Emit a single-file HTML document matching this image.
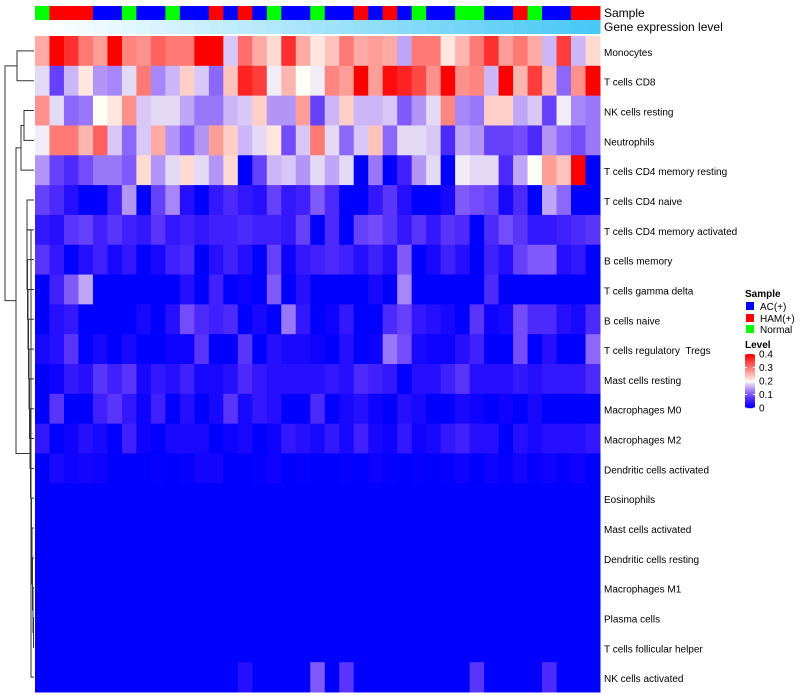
<!DOCTYPE html>
<html><head><meta charset="utf-8"><title>Immune cell heatmap</title>
<style>
html,body{margin:0;padding:0;background:#fff;}
svg{display:block;font-family:"Liberation Sans",Arial,sans-serif;}
#rowlabels text{white-space:pre;}
</style></head>
<body>
<svg id="chart" width="800" height="700" viewBox="0 0 800 700">
  <g id="dendro" stroke="#333" stroke-width="1" fill="none"></g>
  <g id="annot"></g>
  <g id="gene"></g>
  <g id="cells"></g>
  <g id="rowlabels" font-size="10" fill="#000"></g>
  <text x="604" y="17" font-size="12">Sample</text>
  <text x="604" y="31" font-size="12">Gene expression level</text>
  <g>
    <text x="745" y="297" font-size="10" font-weight="bold">Sample</text>
    <rect x="746" y="302" width="8" height="8" fill="#0000ff"/>
    <text x="760" y="310" font-size="10">AC(+)</text>
    <rect x="746" y="314" width="8" height="8" fill="#ff0000"/>
    <text x="760" y="322" font-size="10">HAM(+)</text>
    <rect x="746" y="325" width="8" height="8" fill="#00ff00"/>
    <text x="760" y="333" font-size="10">Normal</text>
    <text x="745" y="348" font-size="10" font-weight="bold">Level</text>
    <g id="colorbar"></g>
  </g>
</svg>
<script>
const rowNames = ["Monocytes","T cells CD8","NK cells resting","Neutrophils","T cells CD4 memory resting","T cells CD4 naive","T cells CD4 memory activated","B cells memory","T cells gamma delta","B cells naive","T cells regulatory  Tregs","Mast cells resting","Macrophages M0","Macrophages M2","Dendritic cells activated","Eosinophils","Mast cells activated","Dendritic cells resting","Macrophages M1","Plasma cells","T cells follicular helper","NK cells activated"];
const sampleGroups = ["N","H","H","H","A","A","N","A","A","N","A","A","H","A","H","A","N","A","A","N","A","A","H","A","H","A","N","A","A","N","N","A","A","H","N","A","A","H","H"];
const levelTicks = [0,0.1,0.2,0.3,0.4];
const r0 = [.26,.4,.36,.3,.27,.4,.29,.28,.32,.3,.3,.4,.4,.17,.31,.26,.22,.36,.26,.21,.24,.3,.26,.27,.26,.15,.3,.3,.21,.25,.3,.36,.27,.3,.26,.16,.35,.16,.22];
const r1 = [.18,.08,.16,.21,.14,.13,.18,.3,.13,.16,.23,.17,.11,.24,.37,.35,.19,.25,.2,.19,.29,.27,.4,.27,.39,.37,.34,.28,.4,.28,.29,.16,.4,.25,.35,.25,.11,.28,.4];
const r2 = [.28,.18,.11,.12,.2,.21,.28,.17,.18,.18,.15,.12,.12,.16,.17,.23,.14,.14,.27,.08,.16,.23,.16,.16,.17,.1,.14,.18,.29,.13,.12,.23,.23,.15,.17,.08,.19,.13,.12];
const r3 = [.19,.3,.3,.25,.32,.17,.11,.17,.26,.14,.1,.14,.27,.23,.16,.18,.21,.09,.17,.3,.18,.11,.17,.24,.11,.18,.18,.17,.06,.15,.14,.08,.08,.09,.06,.14,.11,.09,.12];
const r4 = [.14,.08,.06,.09,.12,.12,.1,.22,.14,.18,.22,.18,.14,.22,0,.08,.16,.17,.14,.18,.15,.18,0,.12,0,.05,.14,.18,0,.19,.18,.18,.06,.15,.2,.27,.24,.4,0];
const r5 = [.08,.06,.03,0,0,.05,.14,0,.08,.13,.03,0,.04,.06,.04,.03,.08,.04,.05,.1,.06,0,0,.04,.07,.03,0,0,.02,.1,.09,.08,.02,.06,0,.15,.11,0,0];
const r6 = [.04,.03,.07,.08,.05,.07,.05,.04,.07,.04,.05,.04,.05,.05,.06,.05,.05,.04,.08,0,.06,0,.08,.09,.07,.04,.07,.04,.07,.06,0,.06,.09,.07,.04,.04,.05,.06,.07];
const r7 = [.07,.04,0,.03,.05,.02,.04,0,.02,.05,.06,0,.03,.05,.03,0,.08,.01,.04,.05,.06,.05,.03,.05,.03,.1,0,.02,.05,.03,0,.05,.03,.08,.1,.1,.03,.04,0];
const r8 = [0,.05,.1,.15,0,0,0,0,0,0,.03,0,.05,0,.01,0,.1,0,.03,0,0,0,0,.02,0,.13,0,0,0,0,0,.06,0,0,0,0,0,0,0];
const r9 = [0,.03,.04,0,0,0,0,.02,0,.03,.09,.06,.05,.06,0,.02,0,.12,.04,0,.01,.04,0,0,.06,.08,.04,.03,.02,0,.07,.01,.02,.09,.06,.06,.03,.02,.06];
const r10 = [.02,.03,.07,0,.02,0,.02,0,0,.01,.01,.07,0,0,.07,0,.03,.02,.02,.01,0,.03,0,.01,.12,.09,.02,.01,.01,.03,.05,0,0,.09,0,.03,0,0,.11];
const r11 = [0,.01,.04,.03,.07,.05,.07,.02,.04,.03,.05,.02,.02,.03,.06,.04,.03,.03,.03,.03,.04,.03,.06,.05,.04,0,.03,.03,.05,.07,.03,.03,.03,.04,.03,.04,.04,.04,.06];
const r12 = [0,.07,0,0,.05,.07,.04,.01,.05,0,.03,0,.02,.07,.02,.04,.03,0,0,.06,0,.02,.03,.01,0,.03,.02,0,0,.02,.01,0,.01,0,.02,0,0,0,0];
const r13 = [.04,0,.01,.03,.02,0,.05,.01,0,.02,.02,.02,0,.01,.02,0,.01,.04,.03,.02,.04,.02,.05,.02,.01,.04,.01,.02,.04,.05,.03,.03,0,.03,.02,.03,.03,.03,.04];
const r14 = [0,.02,.01,.015,.01,0,0,0,.005,0,.005,.015,.015,0,0,.005,.01,0,.005,0,0,.005,0,.01,.005,0,.005,0,.005,.01,0,.01,.005,.015,.005,.01,.005,.01,0];
const r15 = [0,0,0,0,0,0,0,0,0,0,0,0,0,0,0,0,0,0,0,0,0,0,0,0,0,0,0,0,0,0,0,0,0,0,0,0,0,0,0];
const r16 = r15.slice(), r17 = r15.slice(), r18 = r15.slice(), r19 = r15.slice(), r20 = r15.slice();
const r21 = [0,0,0,0,0,0,0,0,0,0,0,0,0,0,.03,0,0,0,0,.1,0,.07,0,0,0,0,0,0,0,0,.07,0,0,0,0,.06,0,0,0];
const matrix = [r0,r1,r2,r3,r4,r5,r6,r7,r8,r9,r10,r11,r12,r13,r14,r15,r16,r17,r18,r19,r20,r21];

const NS = "http://www.w3.org/2000/svg";
const X0 = 35, X1 = 600, Y0 = 36, Y1 = 692;
const nCol = sampleGroups.length, nRow = rowNames.length;
const cw = (X1 - X0) / nCol, rh = (Y1 - Y0) / nRow;
const xPos = i => X0 + i * cw;
const yPos = j => Y0 + j * rh;
const groupColor = {A:"#0000ff", H:"#ff0000", N:"#00ff00"};

function colorOf(v){
  let t = Math.max(0, Math.min(1, v / 0.4));
  let r,g,b;
  if (t <= 0.5){ const s = t/0.5; r = 255*s; g = 255*Math.pow(s,1.5); b = 255 - 10*s; }
  else { const s = (1-t)/0.5; r = 255; g = 255*s*0.95; b = 255*s*0.92; }
  return `rgb(${Math.round(r)},${Math.round(g)},${Math.round(b)})`;
}
function mk(tag, attrs, parent){
  const e = document.createElementNS(NS, tag);
  for (const k in attrs) e.setAttribute(k, attrs[k]);
  parent.appendChild(e); return e;
}

const cells = document.getElementById("cells");
matrix.forEach((row, j) => {
  row.forEach((v, i) => {
    const r = mk("rect", {x: xPos(i), y: yPos(j), width: cw + 0.5, height: rh + 0.5, fill: colorOf(v)}, cells);
    
    
  });
});

const annot = document.getElementById("annot");
sampleGroups.forEach((g, i) => {
  const r = mk("rect", {x: xPos(i), y: 6, width: cw + 0.5, height: 14, fill: groupColor[g]}, annot);
  
  
});
const gene = document.getElementById("gene");
sampleGroups.forEach((g, i) => {
  const t = i / (nCol - 1);
  const c = `rgb(${Math.round(255 - (255-72)*t)},${Math.round(255 - (255-200)*t)},${Math.round(255 - (255-245)*t)})`;
  const r = mk("rect", {x: xPos(i), y: 20, width: cw + 0.5, height: 14, fill: c}, gene);
  
  
});

const rl = document.getElementById("rowlabels");
rowNames.forEach((n, j) => {
  const t = mk("text", {x: 604, y: yPos(j) + rh/2 + 5}, rl);
  t.textContent = n;
  
  
});

const cb = document.getElementById("colorbar");
const cbTop = 354, cbBot = 408;
for (let k = 0; k < 54; k++){
  const v = 0.4 * (1 - k/53);
  const r = mk("rect", {x: 745, y: cbTop + k, width: 10, height: 1.2, fill: colorOf(v)}, cb);
  
  
}
levelTicks.forEach(v => {
  const y = cbBot - (v/0.4)*(cbBot - cbTop);
  const t = mk("text", {x: 759, y: y + 3.5, "font-size": 10}, cb);
  t.textContent = v === 0 ? "0" : v.toFixed(1);
  
  
  mk("line", {x1: 745, x2: 747, y1: y, y2: y, stroke: "#fff"}, cb);
  mk("line", {x1: 753, x2: 755, y1: y, y2: y, stroke: "#fff"}, cb);
});

const dg = document.getElementById("dendro");
const cy = j => yPos(j) + rh/2;
function link(xa, ya, xb, yb, xm){
  const p = mk("path", {d: `M${xa},${ya}H${xm}V${yb}H${xb}`}, dg);
  
  
}
link(34, cy(0), 34, cy(1), 17);
link(34, cy(2), 34, cy(3), 24);
link(24, (cy(2)+cy(3))/2, 34, cy(4), 21);
let prevY = (cy(19)+cy(20))/2;
link(34, cy(19), 34, cy(20), 33.5);
let curX = 33.5;
for (let j = 18; j >= 5; j--){
  const nx = Math.max(27, curX - 0.5);
  link(curX, prevY, 34, cy(j), nx);
  prevY = (prevY + cy(j))/2; curX = nx;
}
link(curX, prevY, 34, cy(21), 31);
const lowY = (prevY + cy(21))/2;
const midGroupY = ((cy(2)+cy(3))/2 + cy(4))/2;
link(21, midGroupY, 31, lowY, 16);
const g2Y = (midGroupY + lowY)/2;
link(17, (cy(0)+cy(1))/2, 16, g2Y, 5);
</script>
</body></html>
